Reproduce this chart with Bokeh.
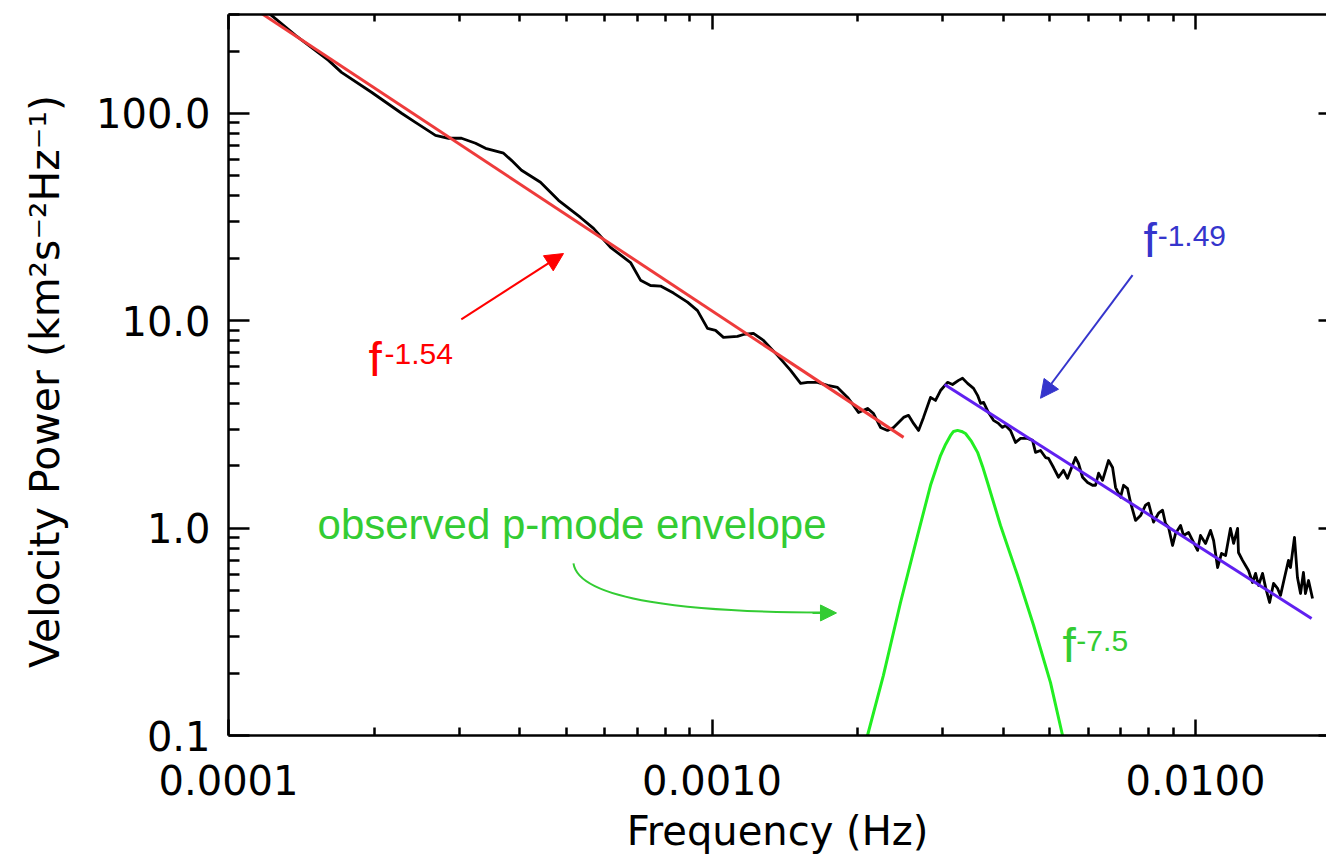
from bokeh.plotting import figure
from bokeh.models import (LogAxis, FixedTicker, PrintfTickFormatter, Range1d,
                          Label, Arrow, NormalHead, ColumnDataSource)
from bokeh.embed import file_html
from bokeh.resources import INLINE

# ---------------- data ----------------
spec_freq = [1.153e-4, 1.227e-4, 1.376e-4, 1.610e-4, 1.713e-4, 1.976e-4, 2.280e-4, 2.436e-4, 2.680e-4, 2.851e-4,
             3.033e-4, 3.243e-4, 3.401e-4, 3.706e-4, 3.848e-4, 4.036e-4, 4.418e-4, 4.814e-4, 5.346e-4, 5.688e-4,
             6.167e-4, 6.784e-4, 7.114e-4, 7.461e-4, 7.826e-4, 8.325e-4, 8.898e-4, 9.333e-4, 9.788e-4, 1.017e-3,
             1.056e-3, 1.129e-3, 1.162e-3, 1.218e-3, 1.278e-3, 1.366e-3, 1.454e-3, 1.525e-3, 1.576e-3, 1.653e-3,
             1.734e-3, 1.818e-3, 1.907e-3, 1.962e-3, 2.009e-3, 2.097e-3, 2.158e-3, 2.231e-3, 2.307e-3, 2.374e-3,
             2.490e-3, 2.549e-3, 2.611e-3, 2.674e-3, 2.738e-3, 2.831e-3, 2.899e-3, 2.969e-3, 3.070e-3, 3.144e-3,
             3.235e-3, 3.297e-3,
             3.377e-3, 3.475e-3, 3.542e-3, 3.593e-3, 3.645e-3, 3.731e-3, 3.821e-3, 3.913e-3, 3.989e-3, 4.046e-3,
             4.143e-3, 4.244e-3, 4.346e-3, 4.494e-3, 4.602e-3, 4.668e-3, 4.781e-3, 4.896e-3, 4.966e-3, 5.086e-3,
             5.208e-3, 5.333e-3, 5.436e-3, 5.567e-3, 5.648e-3, 5.729e-3, 5.840e-3, 5.981e-3, 6.124e-3, 6.213e-3,
             6.302e-3, 6.423e-3, 6.516e-3, 6.609e-3, 6.737e-3, 6.834e-3, 6.998e-3, 7.099e-3, 7.236e-3, 7.339e-3,
             7.516e-3, 7.697e-3, 7.882e-3, 7.996e-3, 8.189e-3, 8.386e-3, 8.548e-3, 8.670e-3, 8.795e-3, 8.965e-3,
             9.094e-3, 9.312e-3, 9.446e-3, 9.674e-3, 9.859e-3, 1.010e-2, 1.024e-2, 1.049e-2, 1.074e-2, 1.090e-2,
             1.111e-2, 1.132e-2, 1.154e-2, 1.181e-2, 1.199e-2, 1.222e-2, 1.227e-2, 1.251e-2, 1.269e-2, 1.287e-2,
             1.312e-2, 1.331e-2, 1.350e-2, 1.376e-2, 1.396e-2, 1.423e-2, 1.450e-2, 1.478e-2, 1.499e-2, 1.528e-2,
             1.557e-2, 1.572e-2, 1.602e-2, 1.625e-2, 1.649e-2, 1.672e-2, 1.688e-2, 1.713e-2, 1.746e-2]
spec_power = [339.6, 297.2, 238.2, 180.3, 157.8, 126.5, 100.2, 90.6, 78.4, 75.9,
              75.9, 71.8, 67.9, 64.3, 59.4, 53.2, 46.6, 38.1, 31.5, 27.9,
              22.6, 19.1, 15.7, 14.8, 14.7, 13.6, 12.3, 11.2, 9.19, 8.99,
              8.32, 8.41, 8.59, 8.69, 8.04, 6.81, 5.77, 4.99, 5.05, 5.05,
              4.88, 4.77, 4.27, 3.91, 3.61, 3.78, 3.57, 3.06, 2.96, 3.06,
              3.42, 3.50, 3.20, 2.96, 3.42, 4.27, 4.13, 4.61, 5.05, 4.93,
              5.16, 5.28,
              4.99, 4.72, 4.37, 4.00, 4.04, 3.61, 3.31, 3.20, 3.06, 3.13,
              2.96, 2.59, 2.71, 2.71, 2.65, 2.32, 2.37, 2.19, 2.17, 1.96,
              1.76, 1.90, 1.74, 2.01, 2.19, 2.05, 1.76, 1.66, 1.61, 1.61,
              1.84, 1.70, 1.90, 2.12, 1.96, 1.57, 1.41, 1.61, 1.55, 1.33,
              1.09, 1.15, 1.29, 1.32, 1.07, 1.18, 1.22, 1.05, 1.01, 0.825,
              0.943, 1.03, 0.922, 0.953, 0.872, 0.781, 0.922, 0.844, 0.975, 0.872,
              0.646, 0.755, 0.738, 0.997, 0.844, 0.997, 0.763, 0.699, 0.661, 0.625,
              0.547, 0.605, 0.529, 0.605, 0.518, 0.438, 0.541, 0.512, 0.474, 0.578,
              0.699, 0.646, 0.902, 0.578, 0.484, 0.611, 0.484, 0.559, 0.458]

env_freq = [2.028e-3, 2.097e-3, 2.262e-3, 2.454e-3, 2.662e-3, 2.831e-3, 2.969e-3, 3.041e-3, 3.114e-3,
            3.159e-3, 3.220e-3, 3.282e-3, 3.344e-3, 3.441e-3, 3.542e-3, 3.627e-3, 3.714e-3, 3.951e-3,
            4.284e-3, 4.624e-3, 5.013e-3, 5.309e-3, 5.463e-3]
env_power = [0.0741, 0.100, 0.195, 0.438, 0.922, 1.61, 2.24, 2.534, 2.80,
             2.927, 2.96, 2.927, 2.86, 2.62, 2.32, 1.985, 1.66, 1.03,
             0.592, 0.340, 0.180, 0.100, 0.0757]

red_fit_freq = [1.10e-4, 2.49e-3]
red_fit_power = [334.0, 2.74]
blue_fit_freq = [3.027e-3, 1.738e-2]
blue_fit_power = [4.93, 0.367]

x_major = [1e-4, 1e-3, 1e-2]
x_minor = [2e-4, 3e-4, 4e-4, 5e-4, 6e-4, 7e-4, 8e-4, 9e-4,
           2e-3, 3e-3, 4e-3, 5e-3, 6e-3, 7e-3, 8e-3, 9e-3, 2e-2]
y_major = [0.1, 1.0, 10.0, 100.0]
y_minor = [0.2, 0.3, 0.4, 0.5, 0.6, 0.7, 0.8, 0.9, 2, 3, 4, 5, 6, 7, 8, 9,
           20, 30, 40, 50, 60, 70, 80, 90, 200, 300]

# annotation anchors (data coordinates)
red_arrow = dict(x0=3.03e-4, y0=10.16, x1=4.93e-4, y1=21.1)
blue_arrow = dict(x0=7.41e-3, y0=16.6, x1=4.78e-3, y1=4.23)
green_curve = dict(x0=5.17e-4, y0=0.676, cx0=5.30e-4, cy0=0.448,
                   cx1=9.03e-4, cy1=0.392, x1=1.693e-3, y1=0.392)
green_arrow = dict(x0=1.614e-3, y0=0.390, x1=1.809e-3, y1=0.390)

RED_LINE = "#ee3b3b"
RED_TXT = "#ff0000"
BLUE_LINE = "#6020f0"
BLUE_TXT = "#3535cc"
GREEN_LINE = "#22ee22"
GREEN_TXT = "#33cc33"

p = figure(width=1326, height=861, x_axis_type="log", y_axis_type="log",
           x_range=Range1d(1e-4, 0.01866), y_range=Range1d(0.1, 300),
           output_backend="svg", toolbar_location=None,
           min_border_left=228, min_border_right=0, min_border_top=14,
           min_border_bottom=126)
p.outline_line_color = None
p.background_fill_color = "white"
p.border_fill_color = "white"
p.xgrid.visible = False
p.ygrid.visible = False

xt = FixedTicker(ticks=x_major, minor_ticks=x_minor)
yt = FixedTicker(ticks=y_major, minor_ticks=y_minor)

def style_axis(ax, tin, tmin):
    ax.axis_line_color = "black"
    ax.axis_line_width = 2.5
    ax.major_tick_line_color = "black"
    ax.minor_tick_line_color = "black"
    ax.major_tick_line_width = 2.5
    ax.minor_tick_line_width = 2.5
    ax.major_tick_in = tin
    ax.major_tick_out = 0
    ax.minor_tick_in = tmin
    ax.minor_tick_out = 0

xb = p.below[0]
xb.ticker = xt
xb.formatter = PrintfTickFormatter(format="%.4f")
style_axis(xb, 16, 8)
xb.major_label_text_font = "DejaVu Sans"
xb.major_label_text_font_size = "40px"
xb.major_label_text_color = "black"
xb.major_label_standoff = 29
xb.axis_label = "Frequency (Hz)"
xb.axis_label_text_font = "DejaVu Sans"
xb.axis_label_text_font_size = "40px"
xb.axis_label_text_font_style = "normal"
xb.axis_label_text_color = "black"
xb.axis_label_standoff = 10

yl = p.left[0]
yl.ticker = yt
yl.formatter = PrintfTickFormatter(format="%.1f")
style_axis(yl, 21, 11)
yl.major_label_text_font = "DejaVu Sans"
yl.major_label_text_font_size = "40px"
yl.major_label_text_color = "black"
yl.major_label_standoff = 18
yl.axis_label = "Velocity Power  (km\u00b2s\u207b\u00b2Hz\u207b\u00b9)"
yl.axis_label_text_font = "DejaVu Sans"
yl.axis_label_text_font_size = "41px"
yl.axis_label_text_font_style = "normal"
yl.axis_label_text_color = "black"
yl.axis_label_standoff = 24

xa = LogAxis(ticker=xt, major_label_text_font_size="1px", major_label_text_alpha=0,
             major_label_standoff=0)
style_axis(xa, 15, 7)
p.add_layout(xa, "above")

yr = LogAxis(ticker=yt, major_label_text_font_size="1px", major_label_text_alpha=0,
             major_label_standoff=0)
style_axis(yr, 8, 0)
yr.axis_line_color = None
p.add_layout(yr, "right")

# ---------------- data glyphs ----------------
spec = ColumnDataSource(dict(f=spec_freq, p=spec_power))
p.line("f", "p", source=spec, line_color="black", line_width=2.8, line_join="round")
p.line(red_fit_freq, red_fit_power, line_color=RED_LINE, line_width=3)
p.line(blue_fit_freq, blue_fit_power, line_color=BLUE_LINE, line_width=3)
p.line(env_freq, env_power, line_color=GREEN_LINE, line_width=3, line_join="round")

# ---------------- annotations ----------------
p.add_layout(Arrow(end=NormalHead(size=18, fill_color=RED_TXT, line_color=RED_TXT, line_width=1),
                   x_start=red_arrow["x0"], y_start=red_arrow["y0"],
                   x_end=red_arrow["x1"], y_end=red_arrow["y1"],
                   line_color=RED_TXT, line_width=2))
p.add_layout(Arrow(end=NormalHead(size=18, fill_color=BLUE_TXT, line_color=BLUE_TXT, line_width=1),
                   x_start=blue_arrow["x0"], y_start=blue_arrow["y0"],
                   x_end=blue_arrow["x1"], y_end=blue_arrow["y1"],
                   line_color=BLUE_TXT, line_width=2))
p.bezier(x0=[green_curve["x0"]], y0=[green_curve["y0"]],
         x1=[green_curve["x1"]], y1=[green_curve["y1"]],
         cx0=[green_curve["cx0"]], cy0=[green_curve["cy0"]],
         cx1=[green_curve["cx1"]], cy1=[green_curve["cy1"]],
         line_color=GREEN_TXT, line_width=2)
p.add_layout(Arrow(end=NormalHead(size=16, fill_color=GREEN_TXT, line_color=GREEN_TXT, line_width=1),
                   x_start=green_arrow["x0"], y_start=green_arrow["y0"],
                   x_end=green_arrow["x1"], y_end=green_arrow["y1"],
                   line_color=GREEN_TXT, line_width=2))

def add_label(x, y, text, size, color):
    p.add_layout(Label(x=x, y=y, text=text, text_font="Liberation Sans",
                       text_font_size=size, text_color=color,
                       text_align="left", text_baseline="alphabetic"))

add_label(1.948e-4, 6.51, "f", "48px", RED_TXT)
add_label(2.102e-4, 6.91, "-1.54", "30px", RED_TXT)
add_label(7.81e-3, 24.4, "f", "48px", BLUE_TXT)
add_label(8.35e-3, 25.65, "-1.49", "30px", BLUE_TXT)
add_label(5.31e-3, 0.2717, "f", "48px", GREEN_TXT)
add_label(5.67e-3, 0.2853, "-7.5", "30px", GREEN_TXT)
add_label(1.528e-4, 1.042, "observed p-mode envelope", "42px", GREEN_TXT)

open("out.html", "w").write(file_html(p, INLINE))
